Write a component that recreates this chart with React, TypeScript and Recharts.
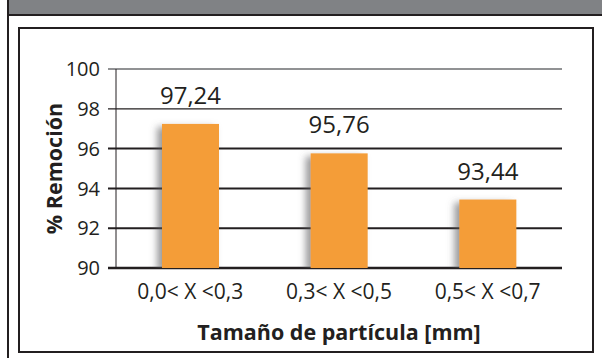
import * as React from "react";
import { Bar, BarChart, CartesianGrid, LabelList, XAxis, YAxis } from "recharts";

const categories = ["0,0< X <0,3", "0,3< X <0,5", "0,5< X <0,7"];
const removal = [97.24, 95.76, 93.44];
const yTicks = [90, 92, 94, 96, 98, 100];

const data = categories.map((range, i) => ({ range, removal: removal[i] }));

const INK = "#231f20";
const FONT = "'Open Sans', Lato, sans-serif";

function formatComma(value: unknown) {
  const n = Number(value);
  return Number.isFinite(n) ? n.toFixed(2).replace(".", ",") : "";
}

// grid rows: the bottom one doubles as the x axis, the top one is lighter
function GridRow(props: any) {
  const { x1, x2, y1, y, height } = props;
  const value = Math.round(100 - ((y1 - y) / height) * 10);
  let stroke = INK;
  let width = 2;
  if (value === 100) {
    stroke = "#6d6e71";
    width = 1.5;
  } else if (value === 98) {
    width = 1.2;
  } else if (value === 90) {
    width = 2.5;
  }
  return <line x1={x1 - 8} x2={x2} y1={y1} y2={y1} stroke={stroke} strokeWidth={width} />;
}

function ShadowBar(props: any) {
  const { x, y, width, height, fill } = props;
  return <rect x={x} y={y} width={width} height={height} fill={fill} filter="url(#barShadow)" />;
}

function RangeTick({ x, y, payload }: any) {
  return (
    <text x={x} y={y + 10} textAnchor="middle" fontFamily={FONT} fontSize={21} fill={INK}>
      {payload.value}
    </text>
  );
}

function YTitle({ viewBox }: any) {
  const cy = viewBox.y + viewBox.height / 2;
  return (
    <text
      x={53}
      y={cy}
      transform={`rotate(-90 53 ${cy})`}
      textAnchor="middle"
      dominantBaseline="central"
      fontFamily={FONT}
      fontWeight={700}
      fontSize={21.5}
      fill={INK}
    >
      % Remoción
    </text>
  );
}

function XTitle({ viewBox }: any) {
  const cx = viewBox.x + viewBox.width / 2;
  return (
    <text
      x={cx}
      y={340}
      textAnchor="middle"
      fontFamily={FONT}
      fontWeight={700}
      fontSize={21.5}
      fill={INK}
    >
      Tamaño de partícula [mm]
    </text>
  );
}

export default function App() {
  return (
    <div
      style={{
        position: "absolute",
        left: 0,
        top: 0,
        width: 602,
        height: 358,
        background: "#fff",
        overflow: "hidden",
      }}
    >
      <svg width={0} height={0} style={{ position: "absolute" }}>
        <defs>
          <filter id="barShadow" x="-40%" y="-10%" width="150%" height="125%">
            <feDropShadow dx={-5} dy={3} stdDeviation={3.5} floodColor="#58595b" floodOpacity={0.6} />
          </filter>
        </defs>
      </svg>
      <div
        style={{
          position: "absolute",
          left: 7,
          top: 0,
          width: 595,
          height: 14,
          background: "#808285",
          borderBottom: `2px solid ${INK}`,
        }}
      />
      <div style={{ position: "absolute", left: 7, top: 0, width: 2, height: 358, background: INK }} />
      <div
        style={{
          position: "absolute",
          left: 18,
          top: 27,
          width: 576,
          height: 326,
          border: `2px solid ${INK}`,
          boxSizing: "border-box",
        }}
      />
      <div style={{ position: "absolute", left: 0, top: 0 }}>
        <BarChart
          width={602}
          height={358}
          data={data}
          margin={{ top: 69, right: 40, bottom: 30, left: 0 }}
          barCategoryGap={0}
        >
          <CartesianGrid vertical={false} horizontal={GridRow} />
          <XAxis
            dataKey="range"
            height={60}
            axisLine={false}
            tickLine={false}
            tickSize={6}
            tickMargin={15}
            tick={<RangeTick />}
            label={<XTitle />}
          />
          <YAxis
            width={116}
            domain={[90, 100]}
            ticks={yTicks}
            allowDataOverflow
            tickLine={false}
            tickSize={7}
            tickMargin={9}
            axisLine={{ stroke: INK, strokeWidth: 1 }}
            tick={{ fontSize: 20, fill: INK, fontFamily: FONT }}
            label={<YTitle />}
          />
          <Bar dataKey="removal" fill="#f49d37" barSize={57} shape={ShadowBar} isAnimationActive={false}>
            <LabelList
              dataKey="removal"
              position="top"
              offset={20}
              formatter={formatComma}
              fill={INK}
              fontSize={24}
              fontFamily={FONT}
            />
          </Bar>
        </BarChart>
      </div>
    </div>
  );
}
